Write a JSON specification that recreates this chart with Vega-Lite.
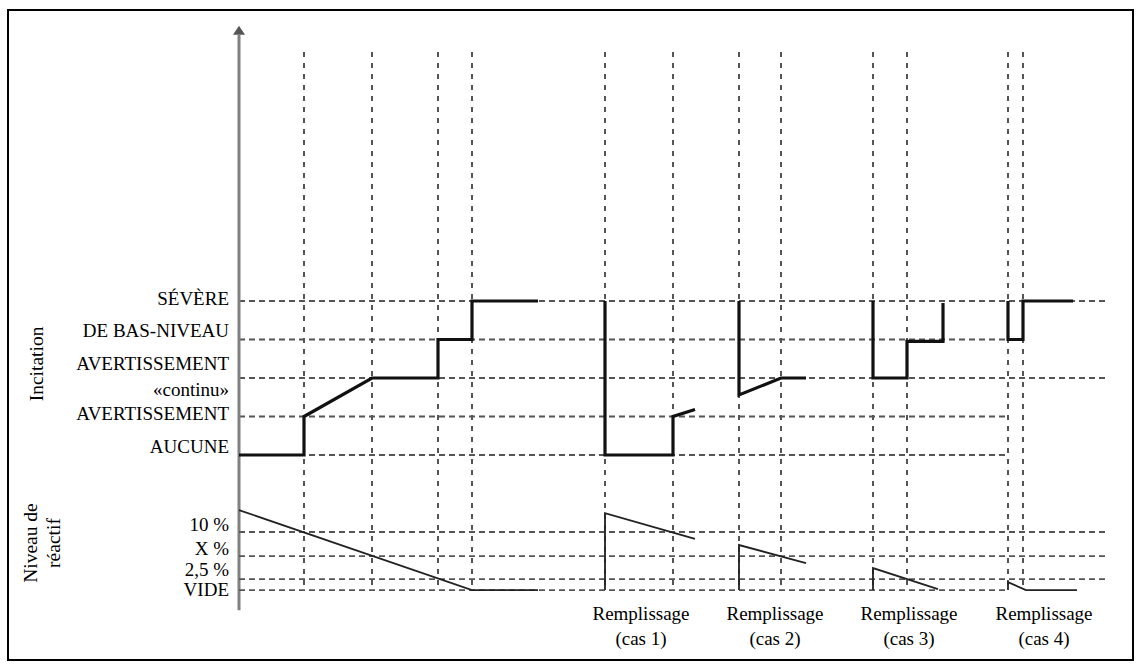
{
  "$schema": "https://vega.github.io/schema/vega-lite/v6.json",
  "width": 1125,
  "height": 650,
  "padding": {"left": 8, "top": 10, "right": 8, "bottom": 8},
  "autosize": {"type": "none"},
  "background": "white",
  "config": {
    "view": {"stroke": "black", "strokeWidth": 2},
    "text": {"font": "Liberation Serif", "fontSize": 19, "color": "black"}
  },
  "datasets": {
    "vlines": [
      {"t": 6.5}, {"t": 13.3}, {"t": 19.9}, {"t": 23.3},
      {"t": 36.6}, {"t": 43.4}, {"t": 50.0}, {"t": 54.2},
      {"t": 63.4}, {"t": 66.8}, {"t": 76.9}, {"t": 78.4}
    ],
    "incLevels": [
      {"level": 4, "start": 0, "end": 86.8},
      {"level": 3, "start": 0, "end": 76.9},
      {"level": 2, "start": 0, "end": 86.8},
      {"level": 1, "start": 0, "end": 76.9},
      {"level": 0, "start": 0, "end": 76.9}
    ],
    "reaLevels": [
      {"pct": 10, "start": 0, "end": 86.9},
      {"pct": 6.4, "start": 0, "end": 86.9},
      {"pct": 2.5, "start": 0, "end": 86.9},
      {"pct": 0, "start": 0, "end": 76.9}
    ],
    "incitation": [
      {"seg": "A", "i": 0, "t": 0, "level": 0},
      {"seg": "A", "i": 1, "t": 6.5, "level": 0},
      {"seg": "A", "i": 2, "t": 6.5, "level": 1},
      {"seg": "A", "i": 3, "t": 13.3, "level": 2},
      {"seg": "A", "i": 4, "t": 19.9, "level": 2},
      {"seg": "A", "i": 5, "t": 19.9, "level": 3},
      {"seg": "A", "i": 6, "t": 23.3, "level": 3},
      {"seg": "A", "i": 7, "t": 23.3, "level": 4},
      {"seg": "A", "i": 8, "t": 29.9, "level": 4},
      {"seg": "B", "i": 0, "t": 36.6, "level": 4},
      {"seg": "B", "i": 1, "t": 36.6, "level": 0},
      {"seg": "B", "i": 2, "t": 43.4, "level": 0},
      {"seg": "B", "i": 3, "t": 43.4, "level": 1},
      {"seg": "B", "i": 4, "t": 45.6, "level": 1.18},
      {"seg": "C", "i": 0, "t": 50.0, "level": 4},
      {"seg": "C", "i": 1, "t": 50.0, "level": 1.56},
      {"seg": "C", "i": 2, "t": 54.2, "level": 2},
      {"seg": "C", "i": 3, "t": 56.7, "level": 2},
      {"seg": "D", "i": 0, "t": 63.4, "level": 4},
      {"seg": "D", "i": 1, "t": 63.4, "level": 2},
      {"seg": "D", "i": 2, "t": 66.8, "level": 2},
      {"seg": "D", "i": 3, "t": 66.8, "level": 2.95},
      {"seg": "D", "i": 4, "t": 70.4, "level": 2.95},
      {"seg": "D", "i": 5, "t": 70.4, "level": 3.95},
      {"seg": "E", "i": 0, "t": 76.9, "level": 4},
      {"seg": "E", "i": 1, "t": 76.9, "level": 3},
      {"seg": "E", "i": 2, "t": 78.4, "level": 3},
      {"seg": "E", "i": 3, "t": 78.4, "level": 4},
      {"seg": "E", "i": 4, "t": 83.4, "level": 4}
    ],
    "reagent": [
      {"seg": "A", "i": 0, "t": 0, "pct": 13.06},
      {"seg": "A", "i": 1, "t": 23.3, "pct": 0},
      {"seg": "A", "i": 2, "t": 29.9, "pct": 0},
      {"seg": "B", "i": 0, "t": 36.6, "pct": 0},
      {"seg": "B", "i": 1, "t": 36.6, "pct": 12.65},
      {"seg": "B", "i": 2, "t": 45.6, "pct": 9.0},
      {"seg": "C", "i": 0, "t": 50.0, "pct": 0},
      {"seg": "C", "i": 1, "t": 50.0, "pct": 8.09},
      {"seg": "C", "i": 2, "t": 56.7, "pct": 5.28},
      {"seg": "D", "i": 0, "t": 63.4, "pct": 0},
      {"seg": "D", "i": 1, "t": 63.4, "pct": 4.45},
      {"seg": "D", "i": 2, "t": 69.9, "pct": 0.34},
      {"seg": "E", "i": 0, "t": 76.9, "pct": 0},
      {"seg": "E", "i": 1, "t": 76.9, "pct": 1.9},
      {"seg": "E", "i": 2, "t": 78.7, "pct": 0},
      {"seg": "E", "i": 3, "t": 83.8, "pct": 0}
    ],
    "incLabels": [
      {"level": 4, "label": "SÉVÈRE"},
      {"level": 3, "label": "DE BAS-NIVEAU"},
      {"level": 2, "label": "AVERTISSEMENT"},
      {"level": 2, "label": "«continu»"},
      {"level": 1, "label": "AVERTISSEMENT"},
      {"level": 0, "label": "AUCUNE"}
    ],
    "reaLabels": [
      {"pct": 10, "label": "10 %"},
      {"pct": 6.4, "label": "X %"},
      {"pct": 2.5, "label": "2,5 %"},
      {"pct": 0, "label": "VIDE"}
    ],
    "refills": [
      {"t": 36.6, "label": "Remplissage\n(cas 1)"},
      {"t": 50.0, "label": "Remplissage\n(cas 2)"},
      {"t": 63.4, "label": "Remplissage\n(cas 3)"},
      {"t": 76.9, "label": "Remplissage\n(cas 4)"}
    ]
  },
  "layer": [
    {
      "layer": [
        {
          "data": {"name": "vlines"},
          "mark": {"type": "rule", "strokeDash": [5, 6], "color": "#555555", "strokeWidth": 2},
          "encoding": {
            "x": {"field": "t", "type": "quantitative", "scale": {"domain": [-23.1, 89.4], "nice": false, "zero": false}, "axis": null},
            "y": {"datum": 10.468, "type": "quantitative", "scale": {"domain": [-5.3247, 11.5584], "nice": false, "zero": false}, "axis": null},
            "y2": {"datum": -3.506}
          }
        },
        {
          "data": {"name": "incLevels"},
          "mark": {"type": "rule", "strokeDash": [6, 4], "color": "#555555", "strokeWidth": 1.8},
          "encoding": {
            "x": {"field": "start", "type": "quantitative", "scale": {"domain": [-23.1, 89.4], "nice": false, "zero": false}, "axis": null},
            "x2": {"field": "end"},
            "y": {"field": "level", "type": "quantitative", "scale": {"domain": [-5.3247, 11.5584], "nice": false, "zero": false}, "axis": null}
          }
        },
        {
          "data": {"values": [{}]},
          "mark": {"type": "rule", "color": "#808080", "strokeWidth": 3},
          "encoding": {
            "x": {"datum": 0, "type": "quantitative", "scale": {"domain": [-23.1, 89.4], "nice": false, "zero": false}, "axis": null},
            "y": {"datum": 10.91, "type": "quantitative", "scale": {"domain": [-5.3247, 11.5584], "nice": false, "zero": false}, "axis": null},
            "y2": {"datum": -4.03}
          }
        },
        {
          "data": {"values": [{}]},
          "mark": {"type": "point", "shape": "M-1,0.75L0,-0.75L1,0.75Z", "filled": true, "color": "#555555", "size": 144, "opacity": 1},
          "encoding": {
            "x": {"datum": 0, "type": "quantitative", "scale": {"domain": [-23.1, 89.4], "nice": false, "zero": false}, "axis": null},
            "y": {"datum": 11.03, "type": "quantitative", "scale": {"domain": [-5.3247, 11.5584], "nice": false, "zero": false}, "axis": null}
          }
        },
        {
          "data": {"name": "incitation"},
          "mark": {"type": "line", "color": "#111111", "strokeWidth": 3.2, "strokeJoin": "miter"},
          "encoding": {
            "x": {"field": "t", "type": "quantitative", "scale": {"domain": [-23.1, 89.4], "nice": false, "zero": false}, "axis": null},
            "y": {"field": "level", "type": "quantitative", "scale": {"domain": [-5.3247, 11.5584], "nice": false, "zero": false}, "axis": null},
            "detail": {"field": "seg", "type": "nominal"},
            "order": {"field": "i", "type": "quantitative"}
          }
        },
        {
          "data": {"name": "incLabels"},
          "transform": [{"filter": "datum.level == 4 || datum.level == 1"}],
          "mark": {"type": "text", "font": "Liberation Serif", "fontSize": 19, "align": "right", "baseline": "middle", "dy": -2},
          "encoding": {
            "x": {"datum": -1.0, "type": "quantitative", "scale": {"domain": [-23.1, 89.4], "nice": false, "zero": false}, "axis": null},
            "y": {"field": "level", "type": "quantitative", "scale": {"domain": [-5.3247, 11.5584], "nice": false, "zero": false}, "axis": null},
            "text": {"field": "label", "type": "nominal"}
          }
        },
        {
          "data": {"name": "incLabels"},
          "transform": [{"filter": "datum.level == 3 || datum.level == 0"}],
          "mark": {"type": "text", "font": "Liberation Serif", "fontSize": 19, "align": "right", "baseline": "middle", "dy": -8},
          "encoding": {
            "x": {"datum": -1.0, "type": "quantitative", "scale": {"domain": [-23.1, 89.4], "nice": false, "zero": false}, "axis": null},
            "y": {"field": "level", "type": "quantitative", "scale": {"domain": [-5.3247, 11.5584], "nice": false, "zero": false}, "axis": null},
            "text": {"field": "label", "type": "nominal"}
          }
        },
        {
          "data": {"name": "incLabels"},
          "transform": [{"filter": "datum.level == 2 && datum.label == 'AVERTISSEMENT'"}],
          "mark": {"type": "text", "font": "Liberation Serif", "fontSize": 19, "align": "right", "baseline": "middle", "dy": -14},
          "encoding": {
            "x": {"datum": -1.0, "type": "quantitative", "scale": {"domain": [-23.1, 89.4], "nice": false, "zero": false}, "axis": null},
            "y": {"field": "level", "type": "quantitative", "scale": {"domain": [-5.3247, 11.5584], "nice": false, "zero": false}, "axis": null},
            "text": {"field": "label", "type": "nominal"}
          }
        },
        {
          "data": {"name": "incLabels"},
          "transform": [{"filter": "datum.label == '«continu»'"}],
          "mark": {"type": "text", "font": "Liberation Serif", "fontSize": 19, "align": "right", "baseline": "middle", "dy": 12},
          "encoding": {
            "x": {"datum": -1.0, "type": "quantitative", "scale": {"domain": [-23.1, 89.4], "nice": false, "zero": false}, "axis": null},
            "y": {"field": "level", "type": "quantitative", "scale": {"domain": [-5.3247, 11.5584], "nice": false, "zero": false}, "axis": null},
            "text": {"field": "label", "type": "nominal"}
          }
        },
        {
          "data": {"values": [{"title": "Incitation"}]},
          "mark": {"type": "text", "font": "Liberation Serif", "fontSize": 19.5, "align": "center", "baseline": "middle", "angle": 270},
          "encoding": {
            "x": {"datum": -20.2, "type": "quantitative", "scale": {"domain": [-23.1, 89.4], "nice": false, "zero": false}, "axis": null},
            "y": {"datum": 2.364, "type": "quantitative", "scale": {"domain": [-5.3247, 11.5584], "nice": false, "zero": false}, "axis": null},
            "text": {"field": "title", "type": "nominal"}
          }
        }
      ]
    },
    {
      "layer": [
        {
          "data": {"name": "reaLevels"},
          "mark": {"type": "rule", "strokeDash": [6, 4], "color": "#555555", "strokeWidth": 1.8},
          "encoding": {
            "x": {"field": "start", "type": "quantitative", "scale": {"domain": [-23.1, 89.4], "nice": false, "zero": false}, "axis": null},
            "x2": {"field": "end"},
            "y": {"field": "pct", "type": "quantitative", "scale": {"type": "pow", "exponent": 1.2, "domain": [-11.68, 68.08], "nice": false, "zero": false}, "axis": null}
          }
        },
        {
          "data": {"name": "reagent"},
          "mark": {"type": "line", "color": "#222222", "strokeWidth": 1.8, "strokeJoin": "miter"},
          "encoding": {
            "x": {"field": "t", "type": "quantitative", "scale": {"domain": [-23.1, 89.4], "nice": false, "zero": false}, "axis": null},
            "y": {"field": "pct", "type": "quantitative", "scale": {"type": "pow", "exponent": 1.2, "domain": [-11.68, 68.08], "nice": false, "zero": false}, "axis": null},
            "detail": {"field": "seg", "type": "nominal"},
            "order": {"field": "i", "type": "quantitative"}
          }
        },
        {
          "data": {"name": "reaLabels"},
          "transform": [{"filter": "datum.pct > 3"}],
          "mark": {"type": "text", "font": "Liberation Serif", "fontSize": 19, "align": "right", "baseline": "middle", "dy": -7},
          "encoding": {
            "x": {"datum": -1.0, "type": "quantitative", "scale": {"domain": [-23.1, 89.4], "nice": false, "zero": false}, "axis": null},
            "y": {"field": "pct", "type": "quantitative", "scale": {"type": "pow", "exponent": 1.2, "domain": [-11.68, 68.08], "nice": false, "zero": false}, "axis": null},
            "text": {"field": "label", "type": "nominal"}
          }
        },
        {
          "data": {"name": "reaLabels"},
          "transform": [{"filter": "datum.pct == 2.5"}],
          "mark": {"type": "text", "font": "Liberation Serif", "fontSize": 19, "align": "right", "baseline": "middle", "dy": -9},
          "encoding": {
            "x": {"datum": -1.0, "type": "quantitative", "scale": {"domain": [-23.1, 89.4], "nice": false, "zero": false}, "axis": null},
            "y": {"field": "pct", "type": "quantitative", "scale": {"type": "pow", "exponent": 1.2, "domain": [-11.68, 68.08], "nice": false, "zero": false}, "axis": null},
            "text": {"field": "label", "type": "nominal"}
          }
        },
        {
          "data": {"name": "reaLabels"},
          "transform": [{"filter": "datum.pct == 0"}],
          "mark": {"type": "text", "font": "Liberation Serif", "fontSize": 19, "align": "right", "baseline": "middle", "dy": 0},
          "encoding": {
            "x": {"datum": -1.0, "type": "quantitative", "scale": {"domain": [-23.1, 89.4], "nice": false, "zero": false}, "axis": null},
            "y": {"field": "pct", "type": "quantitative", "scale": {"type": "pow", "exponent": 1.2, "domain": [-11.68, 68.08], "nice": false, "zero": false}, "axis": null},
            "text": {"field": "label", "type": "nominal"}
          }
        },
        {
          "data": {"values": [{"title": "Niveau de\nréactif"}]},
          "mark": {"type": "text", "font": "Liberation Serif", "fontSize": 19.5, "align": "center", "baseline": "middle", "angle": 270, "lineBreak": "\n", "lineHeight": 23},
          "encoding": {
            "x": {"datum": -20.8, "type": "quantitative", "scale": {"domain": [-23.1, 89.4], "nice": false, "zero": false}, "axis": null},
            "y": {"datum": 8.39, "type": "quantitative", "scale": {"type": "pow", "exponent": 1.2, "domain": [-11.68, 68.08], "nice": false, "zero": false}, "axis": null},
            "text": {"field": "title", "type": "nominal"}
          }
        },
        {
          "data": {"name": "refills"},
          "mark": {"type": "text", "font": "Liberation Serif", "fontSize": 19, "align": "center", "baseline": "middle", "dx": 36, "dy": 24, "lineBreak": "\n", "lineHeight": 25},
          "encoding": {
            "x": {"field": "t", "type": "quantitative", "scale": {"domain": [-23.1, 89.4], "nice": false, "zero": false}, "axis": null},
            "y": {"datum": 0, "type": "quantitative", "scale": {"type": "pow", "exponent": 1.2, "domain": [-11.68, 68.08], "nice": false, "zero": false}, "axis": null},
            "text": {"field": "label", "type": "nominal"}
          }
        }
      ]
    }
  ],
  "resolve": {"scale": {"y": "independent"}}
}
